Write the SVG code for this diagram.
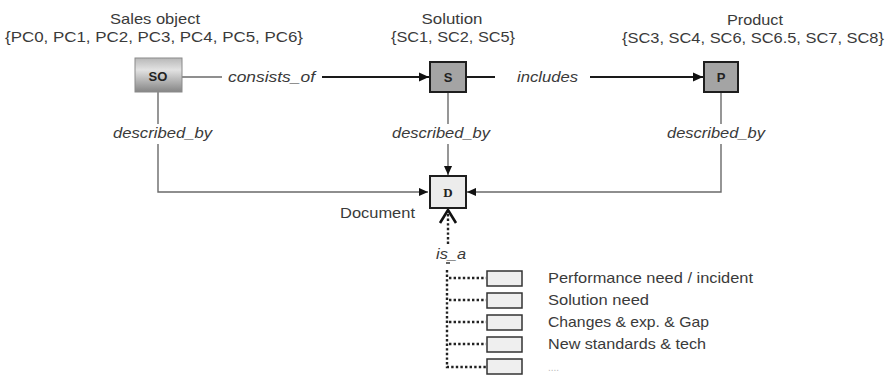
<svg xmlns="http://www.w3.org/2000/svg" width="889" height="380" viewBox="0 0 889 380">
  <defs>
    <linearGradient id="soFill" x1="0" y1="0" x2="0" y2="1">
      <stop offset="0" stop-color="#b8b8b8"/>
      <stop offset="0.35" stop-color="#e2e2e2"/>
      <stop offset="1" stop-color="#858585"/>
    </linearGradient>
    <marker id="arrow" viewBox="0 0 10 10" refX="10" refY="5" markerWidth="10" markerHeight="10" markerUnits="userSpaceOnUse" orient="auto">
      <path d="M0,0.5 L10,5 L0,9.5 Z" fill="#111"/>
    </marker>
    <marker id="arrowSmall" viewBox="0 0 10 10" refX="10" refY="5" markerWidth="9" markerHeight="9" markerUnits="userSpaceOnUse" orient="auto">
      <path d="M0,0.5 L10,5 L0,9.5 Z" fill="#111"/>
    </marker>
  </defs>
  <style>
    text { font-family: "Liberation Sans", Arial, sans-serif; fill: #3a3a3a; }
    .title { font-size: 15px; }
    .rel { font-size: 14px; font-style: italic; }
    .item { font-size: 15px; }
    .boxlbl { font-family: "Liberation Serif", "Times New Roman", serif; font-size: 13px; font-weight: bold; fill: #222; }
    .thin { fill: none; stroke: #6a6a6a; stroke-width: 1.4; }
    .bold { fill: none; stroke: #1a1a1a; stroke-width: 2; }
    .dots { fill: none; stroke: #222; stroke-width: 2.4; stroke-dasharray: 2.4 2.2; }
    .sub { fill: #efefef; stroke: #333; stroke-width: 1.5; }
  </style>
  <rect width="889" height="380" fill="#ffffff"/>

  <!-- relations -->
  <g id="connectors">
    <!-- SO consists_of S -->
    <line class="thin" x1="182" y1="77" x2="222" y2="77"/>
    <line class="bold" x1="322" y1="77" x2="429" y2="77" marker-end="url(#arrow)"/>
    <!-- S includes P -->
    <line class="bold" x1="466" y1="77" x2="495" y2="77"/>
    <line class="bold" x1="590" y1="77" x2="703" y2="77" marker-end="url(#arrow)"/>
    <!-- described_by: SO -> D -->
    <polyline class="thin" points="158,92 158,124"/>
    <polyline class="thin" points="158,144 158,192 428,192" marker-end="url(#arrowSmall)"/>
    <!-- described_by: S -> D -->
    <line class="thin" x1="448" y1="92" x2="448" y2="124"/>
    <line class="thin" x1="448" y1="144" x2="448" y2="175" marker-end="url(#arrowSmall)"/>
    <!-- described_by: P -> D -->
    <polyline class="thin" points="721,92 721,124"/>
    <polyline class="thin" points="721,144 721,192 467,192" marker-end="url(#arrowSmall)"/>
    <!-- is_a: specialisations -> D -->
    <polyline points="440,223 448,210 456,223" fill="none" stroke="#111" stroke-width="2.6"/>
    <line class="dots" x1="448" y1="214" x2="448" y2="244"/>
    <line x1="446" y1="263" x2="450" y2="263" stroke="#333" stroke-width="1.5"/>
    <polyline class="dots" points="447,270 447,367 486,367"/>
    <line class="dots" x1="449" y1="278" x2="486" y2="278"/>
    <line class="dots" x1="449" y1="300" x2="486" y2="300"/>
    <line class="dots" x1="449" y1="322" x2="486" y2="322"/>
    <line class="dots" x1="449" y1="344" x2="486" y2="344"/>
  </g>

  <!-- relation labels -->
  <g id="relation-labels">
    <text class="rel" x="228" y="82" textLength="87" lengthAdjust="spacingAndGlyphs">consists_of</text>
    <text class="rel" x="517" y="82" textLength="61" lengthAdjust="spacingAndGlyphs">includes</text>
    <text class="rel" x="113" y="138" textLength="99" lengthAdjust="spacingAndGlyphs">described_by</text>
    <text class="rel" x="392" y="138" textLength="98" lengthAdjust="spacingAndGlyphs">described_by</text>
    <text class="rel" x="667" y="138" textLength="98" lengthAdjust="spacingAndGlyphs">described_by</text>
    <text class="rel" x="436" y="259" textLength="30" lengthAdjust="spacingAndGlyphs">is_a</text>
  </g>

  <g id="node-so">
    <rect x="135" y="58" width="47" height="34" fill="url(#soFill)" stroke="#8a8a8a" stroke-width="1"/>
    <text class="boxlbl" x="158" y="81" text-anchor="middle" style="font-family:'Liberation Sans',Arial,sans-serif">SO</text>
    <text class="title" x="155" y="24" text-anchor="middle" textLength="90" lengthAdjust="spacingAndGlyphs">Sales object</text>
    <text class="title" x="154" y="42" text-anchor="middle" textLength="298" lengthAdjust="spacingAndGlyphs">{PC0, PC1, PC2, PC3, PC4, PC5, PC6}</text>
  </g>

  <g id="node-s">
    <rect x="430" y="62" width="36" height="30" fill="#a4a4a4" stroke="#1e1e1e" stroke-width="2"/>
    <text class="boxlbl" x="448" y="82" text-anchor="middle" style="font-family:'Liberation Sans',Arial,sans-serif">S</text>
    <text class="title" x="452" y="24" text-anchor="middle" textLength="61" lengthAdjust="spacingAndGlyphs">Solution</text>
    <text class="title" x="453" y="42" text-anchor="middle" textLength="124" lengthAdjust="spacingAndGlyphs">{SC1, SC2, SC5}</text>
  </g>

  <g id="node-p">
    <rect x="704" y="62" width="34" height="30" fill="#a4a4a4" stroke="#1e1e1e" stroke-width="2"/>
    <text class="boxlbl" x="721" y="82" text-anchor="middle" style="font-family:'Liberation Sans',Arial,sans-serif">P</text>
    <text class="title" x="755" y="25" text-anchor="middle" textLength="56" lengthAdjust="spacingAndGlyphs">Product</text>
    <text class="title" x="753" y="43" text-anchor="middle" textLength="262" lengthAdjust="spacingAndGlyphs">{SC3, SC4, SC6, SC6.5, SC7, SC8}</text>
  </g>

  <g id="node-d">
    <rect x="430" y="176" width="36" height="32" fill="#ececec" stroke="#1e1e1e" stroke-width="2"/>
    <text class="boxlbl" x="448" y="197" text-anchor="middle">D</text>
    <text class="title" x="340" y="218" textLength="75" lengthAdjust="spacingAndGlyphs">Document</text>
  </g>

  <g id="node-performance">
    <rect class="sub" x="487" y="271" width="35" height="15"/>
    <text class="item" x="548" y="283" textLength="205" lengthAdjust="spacingAndGlyphs">Performance need / incident</text>
  </g>
  <g id="node-solution-need">
    <rect class="sub" x="487" y="293" width="35" height="15"/>
    <text class="item" x="548" y="305" textLength="101" lengthAdjust="spacingAndGlyphs">Solution need</text>
  </g>
  <g id="node-changes">
    <rect class="sub" x="487" y="315" width="35" height="15"/>
    <text class="item" x="548" y="327" textLength="161" lengthAdjust="spacingAndGlyphs">Changes &amp; exp. &amp; Gap</text>
  </g>
  <g id="node-standards">
    <rect class="sub" x="487" y="337" width="35" height="15"/>
    <text class="item" x="548" y="349" textLength="158" lengthAdjust="spacingAndGlyphs">New standards &amp; tech</text>
  </g>
  <g id="node-more">
    <rect class="sub" x="487" y="359" width="35" height="15"/>
    <text class="item" x="548" y="371" style="fill:#bbbbbb;font-size:10px">....</text>
  </g>
</svg>
